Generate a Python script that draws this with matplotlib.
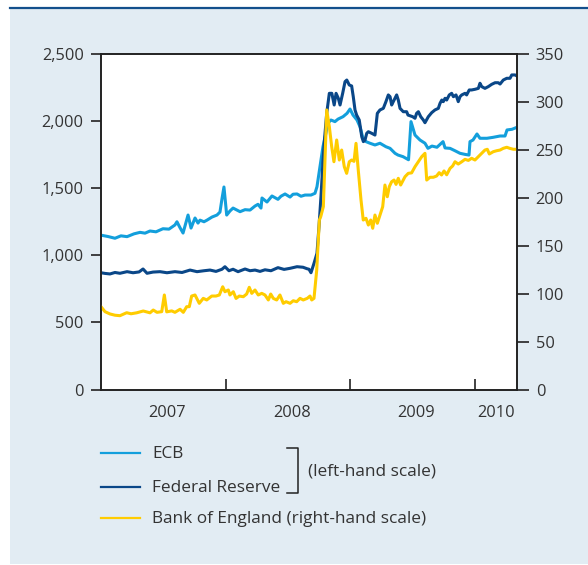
import matplotlib.pyplot as plt
from matplotlib.patches import Rectangle
from matplotlib.lines import Line2D
from matplotlib.ticker import FixedLocator, FuncFormatter, NullFormatter

plt.rcParams['font.family'] = ['Open Sans', 'DejaVu Sans']

# weekly balance sheet totals, time as decimal years
ecb_t = [2007.000, 2007.056, 2007.112, 2007.160, 2007.209, 2007.265, 2007.313, 2007.353,
         2007.393, 2007.441, 2007.497, 2007.545, 2007.593, 2007.609, 2007.634, 2007.658,
         2007.698, 2007.722, 2007.754, 2007.778, 2007.794, 2007.826, 2007.850, 2007.890,
         2007.930, 2007.954, 2007.970, 2007.986, 2008.008, 2008.034, 2008.059, 2008.115,
         2008.155, 2008.195, 2008.235, 2008.259, 2008.283, 2008.291, 2008.331, 2008.371,
         2008.419, 2008.443, 2008.476, 2008.516, 2008.540, 2008.572, 2008.604, 2008.636,
         2008.684, 2008.716, 2008.732, 2008.756, 2008.780, 2008.804, 2008.820, 2008.844,
         2008.876, 2008.901, 2008.941, 2008.973, 2008.997, 2009.021, 2009.053, 2009.077,
         2009.101, 2009.125, 2009.157, 2009.197, 2009.237, 2009.285, 2009.318, 2009.358,
         2009.382, 2009.422, 2009.466, 2009.486, 2009.518, 2009.558, 2009.598, 2009.622,
         2009.654, 2009.694, 2009.743, 2009.759, 2009.799, 2009.839, 2009.879, 2009.919,
         2009.951, 2009.959, 2009.983, 2010.015, 2010.039, 2010.095, 2010.144, 2010.200,
         2010.240, 2010.256, 2010.296, 2010.336]
ecb_v = [1150, 1140, 1127, 1145, 1139, 1160, 1171, 1165,
         1181, 1175, 1198, 1195, 1226, 1250, 1205, 1166,
         1300, 1203, 1278, 1240, 1262, 1250, 1262, 1285,
         1300, 1322, 1420, 1509, 1300, 1330, 1352, 1325,
         1340, 1337, 1367, 1380, 1352, 1427, 1397, 1442,
         1417, 1440, 1457, 1434, 1455, 1457, 1440, 1449,
         1449, 1462, 1511, 1660, 1809, 1911, 1985, 2008,
         1996, 2015, 2033, 2058, 2090, 2045, 2008, 1958,
         1872, 1847, 1835, 1822, 1835, 1809, 1797, 1760,
         1747, 1735, 1712, 1996, 1896, 1859, 1835, 1797,
         1814, 1805, 1847, 1800, 1797, 1779, 1760, 1752,
         1747, 1847, 1859, 1904, 1872, 1872, 1879, 1889,
         1889, 1934, 1939, 1954]

fed_t = [2007.000, 2007.032, 2007.072, 2007.112, 2007.152, 2007.209, 2007.257, 2007.305,
         2007.337, 2007.369, 2007.417, 2007.473, 2007.529, 2007.593, 2007.650, 2007.714,
         2007.770, 2007.826, 2007.874, 2007.922, 2007.970, 2007.994, 2008.026, 2008.059,
         2008.099, 2008.155, 2008.195, 2008.235, 2008.275, 2008.315, 2008.363, 2008.419,
         2008.468, 2008.516, 2008.572, 2008.620, 2008.652, 2008.668, 2008.684, 2008.708,
         2008.732, 2008.748, 2008.764, 2008.780, 2008.792, 2008.810, 2008.831, 2008.851,
         2008.870, 2008.885, 2008.903, 2008.917, 2008.938, 2008.957, 2008.971, 2008.991,
         2009.010, 2009.023, 2009.037, 2009.050, 2009.071, 2009.091, 2009.104, 2009.117,
         2009.131, 2009.144, 2009.171, 2009.197, 2009.216, 2009.237, 2009.264, 2009.285,
         2009.304, 2009.318, 2009.331, 2009.344, 2009.371, 2009.384, 2009.398, 2009.424,
         2009.451, 2009.462, 2009.499, 2009.518, 2009.531, 2009.545, 2009.564, 2009.585,
         2009.598, 2009.625, 2009.652, 2009.678, 2009.705, 2009.719, 2009.733, 2009.745,
         2009.759, 2009.772, 2009.793, 2009.812, 2009.826, 2009.847, 2009.865, 2009.879,
         2009.893, 2009.919, 2009.932, 2009.953, 2009.972, 2009.999, 2010.026, 2010.039,
         2010.053, 2010.079, 2010.106, 2010.133, 2010.160, 2010.186, 2010.200, 2010.226,
         2010.254, 2010.280, 2010.294, 2010.320, 2010.336]
fed_v = [870, 865, 861, 872, 866, 878, 870, 876,
         898, 866, 875, 878, 870, 878, 872, 890,
         878, 885, 890, 880, 896, 915, 885, 896,
         878, 898, 885, 890, 880, 892, 885, 908,
         895, 903, 915, 911, 900, 896, 870, 940,
         1015, 1213, 1437, 1700, 1860, 2058, 2207, 2207,
         2120, 2207, 2170, 2120, 2207, 2294, 2306, 2269,
         2262, 2182, 2083, 2045, 2008, 1884, 1847, 1859,
         1909, 1921, 1909, 1896, 2058, 2083, 2095, 2145,
         2195, 2182, 2120, 2145, 2195, 2157, 2095, 2070,
         2070, 2045, 2033, 2021, 2058, 2070, 2033, 2008,
         1988, 2033, 2063, 2083, 2095, 2133, 2157, 2145,
         2170, 2157, 2195, 2207, 2182, 2195, 2145, 2182,
         2195, 2207, 2195, 2232, 2232, 2237, 2244, 2282,
         2257, 2244, 2257, 2274, 2286, 2286, 2276, 2306,
         2319, 2319, 2344, 2344, 2336]

boe_t = [2007.000, 2007.032, 2007.072, 2007.112, 2007.152, 2007.206, 2007.241, 2007.286,
         2007.339, 2007.393, 2007.419, 2007.449, 2007.487, 2007.508, 2007.527, 2007.567,
         2007.593, 2007.634, 2007.660, 2007.687, 2007.708, 2007.727, 2007.754, 2007.788,
         2007.820, 2007.848, 2007.888, 2007.922, 2007.949, 2007.976, 2007.994, 2008.021,
         2008.034, 2008.061, 2008.083, 2008.109, 2008.141, 2008.168, 2008.189, 2008.209,
         2008.235, 2008.261, 2008.289, 2008.315, 2008.342, 2008.361, 2008.382, 2008.409,
         2008.435, 2008.462, 2008.484, 2008.516, 2008.542, 2008.569, 2008.596, 2008.622,
         2008.654, 2008.676, 2008.690, 2008.708, 2008.730, 2008.751, 2008.762, 2008.783,
         2008.810, 2008.831, 2008.850, 2008.868, 2008.890, 2008.911, 2008.930, 2008.951,
         2008.970, 2008.991, 2009.010, 2009.029, 2009.045, 2009.063, 2009.085, 2009.103,
         2009.125, 2009.144, 2009.163, 2009.179, 2009.197, 2009.216, 2009.237, 2009.259,
         2009.277, 2009.296, 2009.312, 2009.331, 2009.350, 2009.366, 2009.384, 2009.403,
         2009.424, 2009.438, 2009.464, 2009.491, 2009.518, 2009.545, 2009.572, 2009.598,
         2009.612, 2009.638, 2009.665, 2009.691, 2009.712, 2009.731, 2009.751, 2009.772,
         2009.799, 2009.820, 2009.839, 2009.865, 2009.893, 2009.919, 2009.946, 2009.972,
         2009.999, 2010.026, 2010.053, 2010.079, 2010.098, 2010.114, 2010.146, 2010.173,
         2010.200, 2010.226, 2010.254, 2010.280, 2010.307, 2010.336]
boe_v = [86.4, 81.2, 78.8, 77.5, 77.0, 80.1, 79.0, 80.0,
         81.9, 80.0, 82.9, 80.5, 81.2, 98.6, 81.0, 82.0,
         80.5, 83.7, 80.5, 86.4, 86.4, 97.5, 98.6, 89.9,
         95.1, 93.4, 97.5, 97.5, 98.6, 107.2, 102.0, 103.8,
         98.6, 102.0, 95.0, 97.5, 96.8, 99.6, 106.6, 100.3,
         103.8, 98.6, 100.3, 98.6, 93.4, 99.6, 95.0, 93.4,
         98.6, 89.9, 91.6, 89.9, 92.6, 91.6, 95.1, 93.4,
         95.1, 97.5, 93.4, 95.1, 124.7, 176.8, 180.3, 190.7,
         291.6, 274.2, 253.3, 237.6, 260.3, 239.4, 249.8, 232.4,
         225.5, 237.6, 239.4, 238.0, 256.8, 229.0, 197.7, 176.8,
         178.6, 171.6, 176.8, 168.2, 182.0, 173.4, 182.0, 190.7,
         213.3, 201.1, 211.6, 216.8, 218.5, 214.0, 220.3, 213.3,
         218.5, 222.0, 225.5, 226.0, 232.4, 237.6, 242.9, 246.4,
         218.5, 221.4, 221.4, 222.7, 226.2, 223.8, 228.0, 224.0,
         230.7, 233.2, 237.6, 235.2, 237.6, 240.1, 239.0, 241.2,
         239.4, 242.9, 246.4, 249.8, 250.6, 245.7, 248.1, 249.1,
         249.8, 251.6, 252.7, 251.5, 250.6, 250.6]

year_bounds = [2008, 2009, 2010]
year_label_pos = [2007.53, 2008.53, 2009.53, 2010.165]
year_labels = ['2007', '2008', '2009', '2010']

ECB_COL = '#139fdc'
FED_COL = '#0a4788'
BOE_COL = '#ffcc00'
TXT = '#333333'
BG = '#e2ecf3'
FS = 11.8
FS_KEY = 12.4

W, H = 588, 565
fig = plt.figure(figsize=(W / 100, H / 100), dpi=100)
fig.patch.set_facecolor('white')


def fx(px):
    return px / W


def fy(py):
    return 1 - py / H


# light panel and the dark rule along its top, kept behind the axes
fig.patches.append(Rectangle((fx(10), fy(564)), 1 - fx(10), fy(8) - fy(564),
                             transform=fig.transFigure, facecolor=BG, edgecolor='none', zorder=-10))
fig.lines.append(Line2D([fx(10), 1], [fy(7.5), fy(7.5)], transform=fig.transFigure,
                        color='#134f8c', lw=1.6, zorder=-5))

ax = fig.add_axes([fx(101), fy(389.5), fx(517) - fx(101), fy(54) - fy(389.5)])
ax.set_facecolor('white')
ax2 = ax.twinx()

ax.plot(ecb_t, ecb_v, color=ECB_COL, lw=2.2, solid_joinstyle='round')
ax.plot(fed_t, fed_v, color=FED_COL, lw=2.2, solid_joinstyle='round')
ax2.plot(boe_t, boe_v, color=BOE_COL, lw=2.2, solid_joinstyle='round')

ax.set_xlim(2007.0, 2010.336)
ax.set_ylim(0, 2500)
ax2.set_ylim(0, 350)

ax.set_yticks(range(0, 2501, 500))
ax.yaxis.set_major_formatter(FuncFormatter(lambda v, p: f'{int(v):,}'))
ax2.set_yticks(range(0, 351, 50))

ax.xaxis.set_major_locator(FixedLocator(year_bounds))
ax.xaxis.set_major_formatter(NullFormatter())
ax.xaxis.set_minor_locator(FixedLocator(year_label_pos))
ax.set_xticklabels(year_labels, minor=True)
ax.tick_params(axis='x', which='major', direction='in', length=8, width=1.2, color='#222222')
ax.tick_params(axis='x', which='minor', length=0, pad=11, labelsize=FS, labelcolor=TXT)
ax.tick_params(axis='y', direction='out', length=7, width=1.2, color='#222222',
               pad=5.5, labelsize=FS, labelcolor=TXT)
ax2.tick_params(axis='y', direction='out', length=8.5, width=1.2, color='#222222',
                pad=5, labelsize=FS, labelcolor=TXT)

for a in (ax, ax2):
    for s in a.spines.values():
        s.set_linewidth(1.2)
        s.set_color('#222222')

# key below the chart
legend_rows = [(453, ECB_COL, 'ECB'), (487, FED_COL, 'Federal Reserve'),
               (518, BOE_COL, 'Bank of England (right-hand scale)')]
for py, col, txt in legend_rows:
    fig.lines.append(Line2D([fx(101), fx(140)], [fy(py), fy(py)], transform=fig.transFigure,
                            color=col, lw=1.6))
    fig.text(fx(152), fy(py + 1), txt, fontsize=FS_KEY, color=TXT, va='center', ha='left')

# bracket grouping the left-hand scale series
fig.lines.append(Line2D([fx(287), fx(298), fx(298), fx(287)],
                        [fy(448), fy(448), fy(493), fy(493)],
                        transform=fig.transFigure, color='#222222', lw=1.1))
fig.text(fx(308), fy(471), '(left-hand scale)', fontsize=FS_KEY, color=TXT, va='center', ha='left')

fig.savefig('out.png', dpi=100)
